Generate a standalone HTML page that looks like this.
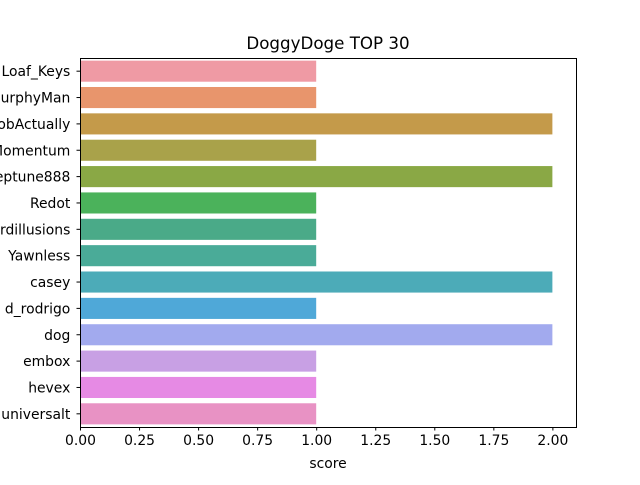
<!DOCTYPE html>
<html><head><meta charset="utf-8"><style>
body{margin:0;background:#fff}
svg text{font-family:"DejaVu Sans","Liberation Sans",sans-serif;fill:#000}
</style></head><body>
<svg id="chart" width="640" height="480">
<text x="328" y="49" font-size="16.7" text-anchor="middle">DoggyDoge TOP 30</text>
<g id="bars"></g>
<rect x="80.5" y="58.5" width="496" height="369" fill="none" stroke="#000" stroke-width="1"/>
<g id="xticks"></g><g id="yticks"></g>
<text x="328" y="468" font-size="13.9" text-anchor="middle">score</text>
</svg>
<script>
const categories=["Loaf_Keys","urphyMan","obActually","Momentum","eptune888","Redot","rdillusions","Yawnless","casey","d_rodrigo","dog","embox","hevex","universalt"];
const scores=[1,1,2,1,2,1,1,1,2,1,2,1,1,1];
const colors=["#ef9aa4","#e8956c","#c49a4a","#a9a24a","#8aa845","#4bb25b","#4aaa88","#4aab98","#4cabb8","#4fa8d8","#a2aaee","#c8a0e4","#e68ae4","#e892c4"];
const xTicks=["0.00","0.25","0.50","0.75","1.00","1.25","1.50","1.75","2.00"];
const ns="http://www.w3.org/2000/svg";
const L=80,T=58,W=496,H=369,xmax=2.1;
const xs=v=>L+v/xmax*W;
const band=H/categories.length;
const ys=i=>T+band*i;
const bars=document.getElementById('bars'),xt=document.getElementById('xticks'),yt=document.getElementById('yticks');
categories.forEach((c,i)=>{
 const r=document.createElementNS(ns,'rect');
 
 
 r.setAttribute('x',xs(0));r.setAttribute('y',ys(i)+band*0.1);
 r.setAttribute('width',xs(scores[i])-xs(0));r.setAttribute('height',band*0.8);
 r.setAttribute('fill',colors[i]);bars.appendChild(r);
 const cy=ys(i)+band/2;
 const tk=document.createElementNS(ns,'line');
 
 
 tk.setAttribute('x1',L-3.5);tk.setAttribute('x2',L);tk.setAttribute('y1',cy);tk.setAttribute('y2',cy);tk.setAttribute('stroke','#000');yt.appendChild(tk);
 const t=document.createElementNS(ns,'text');
 
 
 t.setAttribute('x',L-9.7);t.setAttribute('y',cy+5);t.setAttribute('font-size','13.9');t.setAttribute('text-anchor','end');t.textContent=c;yt.appendChild(t);
});
xTicks.forEach(v=>{
 const x=xs(parseFloat(v))+0.5;
 const tk=document.createElementNS(ns,'line');
 
 
 tk.setAttribute('x1',x);tk.setAttribute('x2',x);tk.setAttribute('y1',T+H);tk.setAttribute('y2',T+H+3.5);tk.setAttribute('stroke','#000');xt.appendChild(tk);
 const t=document.createElementNS(ns,'text');
 
 
 t.setAttribute('x',x);t.setAttribute('y',T+H+18);t.setAttribute('font-size','13.9');t.setAttribute('text-anchor','middle');t.textContent=v;xt.appendChild(t);
});
</script>
</body></html>
